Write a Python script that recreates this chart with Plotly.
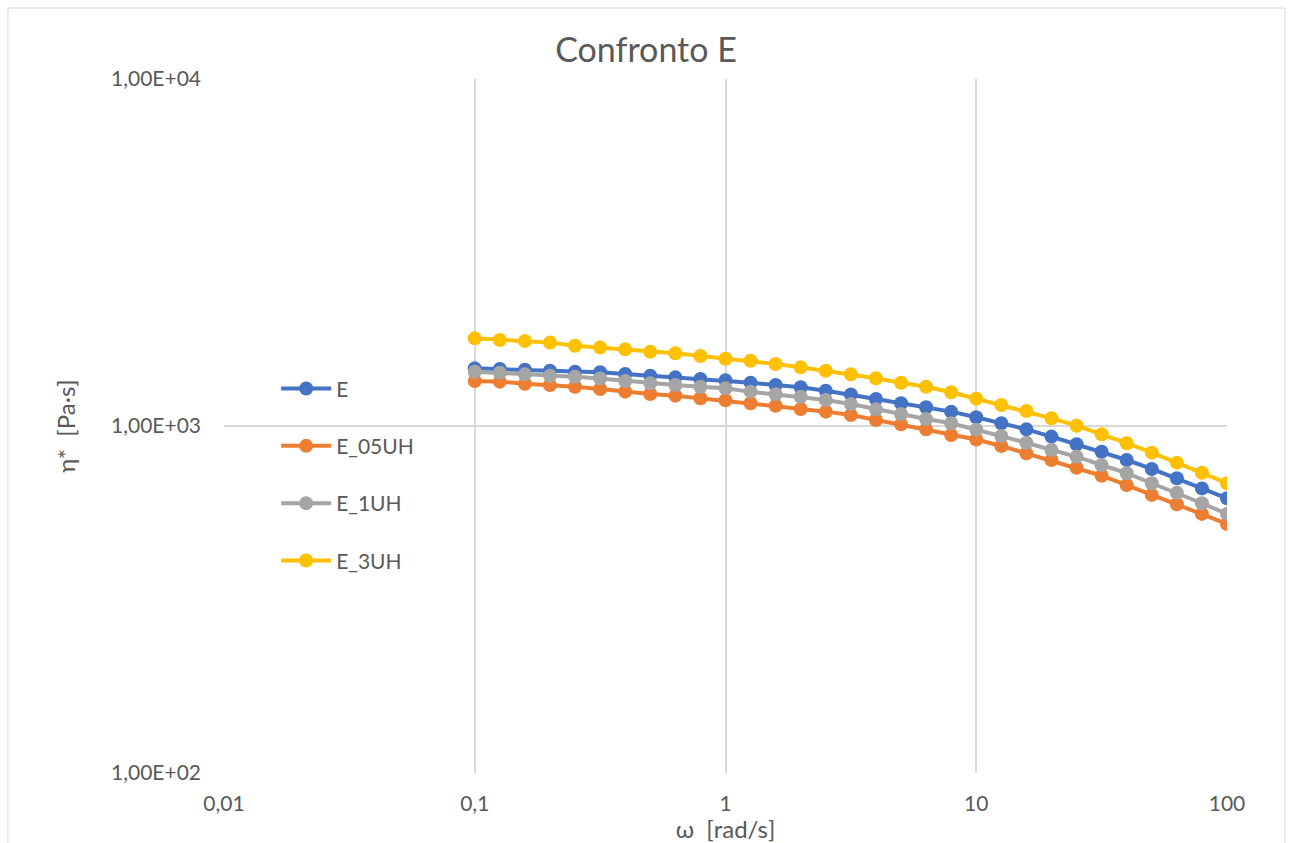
import plotly.graph_objects as go

omega = [0.1, 0.1259, 0.1585, 0.1995, 0.2512, 0.3162, 0.3981, 0.5012, 0.631, 0.7943,
         1, 1.259, 1.585, 1.995, 2.512, 3.162, 3.981, 5.012, 6.31, 7.943,
         10, 12.59, 15.85, 19.95, 25.12, 31.62, 39.81, 50.12, 63.1, 79.43, 100]

eta_E = [1466, 1460, 1452, 1443, 1434, 1428, 1412, 1396, 1381, 1366,
         1354, 1333, 1313, 1293, 1264, 1233, 1196, 1163, 1132, 1100,
         1060, 1018, 978, 932, 886, 843, 798, 752, 707, 661, 619]
eta_E_05UH = [1348, 1342, 1324, 1313, 1298, 1278, 1256, 1236, 1223, 1202,
              1186, 1163, 1144, 1119, 1100, 1076, 1041, 1011, 978, 942,
              914, 876, 834, 798, 758, 719, 676, 633, 595, 558, 522]
eta_E_1UH = [1434, 1424, 1409, 1396, 1387, 1370, 1348, 1328, 1313, 1298,
             1284, 1256, 1234, 1214, 1188, 1157, 1117, 1083, 1047, 1018,
             976, 936, 895, 853, 816, 772, 731, 684, 642, 599, 558]
eta_E_3UH = [1789, 1769, 1758, 1739, 1704, 1684, 1663, 1637, 1620, 1591,
             1563, 1542, 1509, 1476, 1443, 1410, 1372, 1333, 1298, 1251,
             1199, 1149, 1105, 1052, 1002, 947, 892, 838, 784, 733, 684]

series_names = ["E", "E_05UH", "E_1UH", "E_3UH"]
series_values = [eta_E, eta_E_05UH, eta_E_1UH, eta_E_3UH]
colors = ["#4472C4", "#ED7D31", "#A5A5A5", "#FFC000"]

x_tickvals = [0.01, 0.1, 1, 10, 100]
x_ticktext = ["0,01", "0,1", "1", "10", "100"]
y_tickvals = [100, 1000, 10000]
y_ticktext = ["1,00E+02", "1,00E+03", "1,00E+04"]

FONT = "Lato, 'Open Sans', sans-serif"
TXT = "#595959"

fig = go.Figure()
for name, vals, col in zip(series_names, series_values, colors):
    fig.add_trace(go.Scatter(
        x=omega, y=vals, name=name, mode="lines+markers",
        line=dict(color=col, width=4),
        marker=dict(color=col, size=14),
        legendgroup=name,
    ))

fig.update_layout(
    width=1292, height=843,
    margin=dict(l=224, r=65, t=79, b=70),
    paper_bgcolor="white", plot_bgcolor="white",
    font=dict(family=FONT, color=TXT, size=20),
    title=dict(text="Confronto E", x=0.5, xanchor="center", y=0.94, yanchor="middle",
               font=dict(family=FONT, size=34, color=TXT)),
    showlegend=True,
    legend=dict(x=0.052, y=0.583, xanchor="left", yanchor="top",
                bgcolor="rgba(0,0,0,0)", font=dict(size=21, color=TXT),
                tracegroupgap=27, itemwidth=50),
    xaxis=dict(type="log", range=[-2, 2], tickvals=x_tickvals, ticktext=x_ticktext,
               showgrid=True, gridcolor="#D9D9D9", gridwidth=1.5, automargin=False,
               zeroline=False, showline=False, ticks="",
               tickfont=dict(size=21, color=TXT), ticklabelstandoff=16,
               title=dict(text="ω  [rad/s]", standoff=4, font=dict(size=24, color=TXT))),
    yaxis=dict(type="log", range=[2, 4], tickvals=y_tickvals, ticktext=y_ticktext,
               showgrid=True, gridcolor="#D9D9D9", gridwidth=1.5, automargin=False,
               zeroline=False, showline=False, ticks="",
               tickfont=dict(size=21, color=TXT), ticklabelstandoff=22,
               title=dict(text="η*  [Pa·s]", standoff=28, font=dict(size=24, color=TXT))),
    shapes=[dict(type="rect", xref="paper", yref="paper",
                 x0=-0.2154, x1=1.0578, y0=-0.11, y1=1.1023,
                 line=dict(color="#D9D9D9", width=1), fillcolor="rgba(0,0,0,0)", layer="below")],
)

fig.write_html("out.html")
